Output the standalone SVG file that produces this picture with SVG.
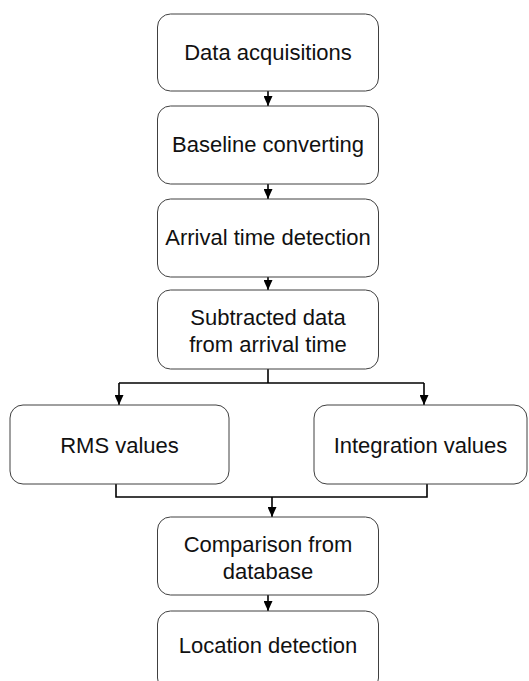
<svg xmlns="http://www.w3.org/2000/svg" width="529" height="681" viewBox="0 0 529 681">
  <style>
    .box { fill: #ffffff; stroke: #404040; stroke-width: 1; }
    .lbl { font-family: "Liberation Sans", Arial, sans-serif; font-size: 22px; fill: #111111; text-anchor: middle; }
    .wire { fill: none; stroke: #000000; stroke-width: 1.6; }
  </style>
  <defs>
    <marker id="arrow" viewBox="0 0 10 9" refX="10" refY="4.5" markerWidth="10" markerHeight="9" markerUnits="userSpaceOnUse" orient="auto">
      <path d="M0,0 L10,4.5 L0,9 Z" fill="#000000"/>
    </marker>
  </defs>

  <rect width="529" height="681" fill="#ffffff"/>

  <!-- connectors -->
  <g id="connectors">
    <line class="wire" x1="268" y1="91" x2="268" y2="106" marker-end="url(#arrow)"/>
    <line class="wire" x1="268" y1="184" x2="268" y2="199" marker-end="url(#arrow)"/>
    <line class="wire" x1="268" y1="277" x2="268" y2="290" marker-end="url(#arrow)"/>
    <!-- split to the two value boxes -->
    <polyline class="wire" points="268,369 268,383"/>
    <polyline class="wire" points="119,383 424,383"/>
    <line class="wire" x1="119" y1="383" x2="119" y2="405" marker-end="url(#arrow)"/>
    <line class="wire" x1="424" y1="383" x2="424" y2="405" marker-end="url(#arrow)"/>
    <!-- merge into comparison -->
    <polyline class="wire" points="116,484 116,497 427,497 427,484"/>
    <line class="wire" x1="272" y1="497" x2="272" y2="517" marker-end="url(#arrow)"/>
    <line class="wire" x1="268" y1="595" x2="268" y2="611" marker-end="url(#arrow)"/>
  </g>

  <g id="data-acquisitions">
    <rect class="box" x="157.5" y="14" width="221" height="77" rx="13"/>
    <text class="lbl" x="268" y="60">Data acquisitions</text>
  </g>

  <g id="baseline-converting">
    <rect class="box" x="157.5" y="106" width="221" height="78" rx="13"/>
    <text class="lbl" x="268" y="152">Baseline converting</text>
  </g>

  <g id="arrival-time-detection">
    <rect class="box" x="157.5" y="199" width="221" height="78" rx="13"/>
    <text class="lbl" x="268" y="245">Arrival time detection</text>
  </g>

  <g id="subtracted-data">
    <rect class="box" x="157.5" y="290" width="221" height="79" rx="13"/>
    <text class="lbl" x="268" y="325">Subtracted data</text>
    <text class="lbl" x="268" y="352">from arrival time</text>
  </g>

  <g id="rms-values">
    <rect class="box" x="10" y="405" width="219" height="79" rx="13"/>
    <text class="lbl" x="119.5" y="453">RMS values</text>
  </g>

  <g id="integration-values">
    <rect class="box" x="314" y="405" width="213" height="79" rx="13"/>
    <text class="lbl" x="420.5" y="453">Integration values</text>
  </g>

  <g id="comparison-from-database">
    <rect class="box" x="157.5" y="517" width="221" height="78" rx="13"/>
    <text class="lbl" x="268" y="552">Comparison from</text>
    <text class="lbl" x="268" y="579">database</text>
  </g>

  <g id="location-detection">
    <rect class="box" x="157.5" y="611" width="221" height="80" rx="13"/>
    <text class="lbl" x="268" y="653">Location detection</text>
  </g>
</svg>
